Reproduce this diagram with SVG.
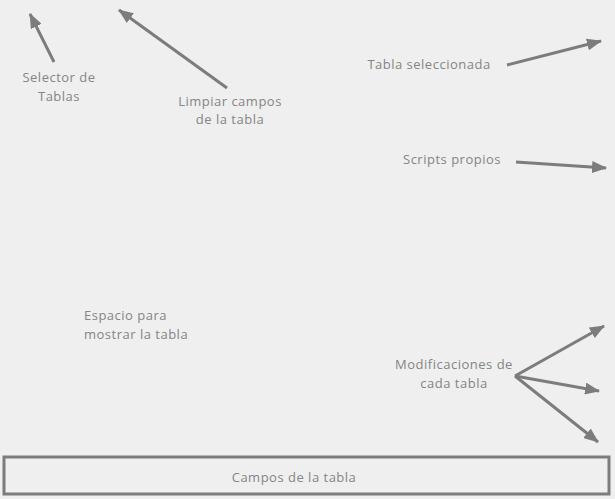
<svg xmlns="http://www.w3.org/2000/svg" width="615" height="499" viewBox="0 0 615 499">
<style>
text{font-family:"Open Sans","Noto Sans",sans-serif;font-size:13px;letter-spacing:0.5px;fill:#858585}
.c{stroke:#7c7c7c;stroke-width:3;fill:none;marker-end:url(#ah)}
</style>
<defs>
<marker id="ah" markerUnits="userSpaceOnUse" markerWidth="16" markerHeight="12" refX="14" refY="6" orient="auto">
<path d="M0,0 L15,6 L0,12 Z" fill="#7c7c7c"/>
</marker>
</defs>
<rect width="615" height="499" fill="#efefef"/>
<g id="connectors">
<line class="c" x1="54" y1="62" x2="30" y2="14"/>
<line class="c" x1="227" y1="88" x2="119" y2="10"/>
<line class="c" x1="507" y1="65" x2="601" y2="41"/>
<line class="c" x1="516" y1="162" x2="606" y2="168"/>
<line class="c" x1="515" y1="376" x2="604" y2="326"/>
<line class="c" x1="515" y1="376" x2="599" y2="391"/>
<line class="c" x1="515" y1="376" x2="598" y2="442"/>
</g>
<g id="selector"><text x="59" y="82" text-anchor="middle">Selector de</text><text x="59" y="101" text-anchor="middle">Tablas</text></g>
<g id="limpiar"><text x="230" y="106" text-anchor="middle">Limpiar campos</text><text x="230" y="124" text-anchor="middle">de la tabla</text></g>
<g id="tabla-sel"><text x="429" y="69" text-anchor="middle">Tabla seleccionada</text></g>
<g id="scripts"><text x="452" y="164" text-anchor="middle">Scripts propios</text></g>
<g id="espacio"><text x="84" y="320">Espacio para</text><text x="84" y="339">mostrar la tabla</text></g>
<g id="modificaciones"><text x="454" y="369" text-anchor="middle">Modificaciones de</text><text x="454" y="388" text-anchor="middle">cada tabla</text></g>
<g id="campos"><rect x="4" y="457" width="605" height="37" fill="none" stroke="#7c7c7c" stroke-width="3"/><text x="294" y="482" text-anchor="middle">Campos de la tabla</text></g>
</svg>
